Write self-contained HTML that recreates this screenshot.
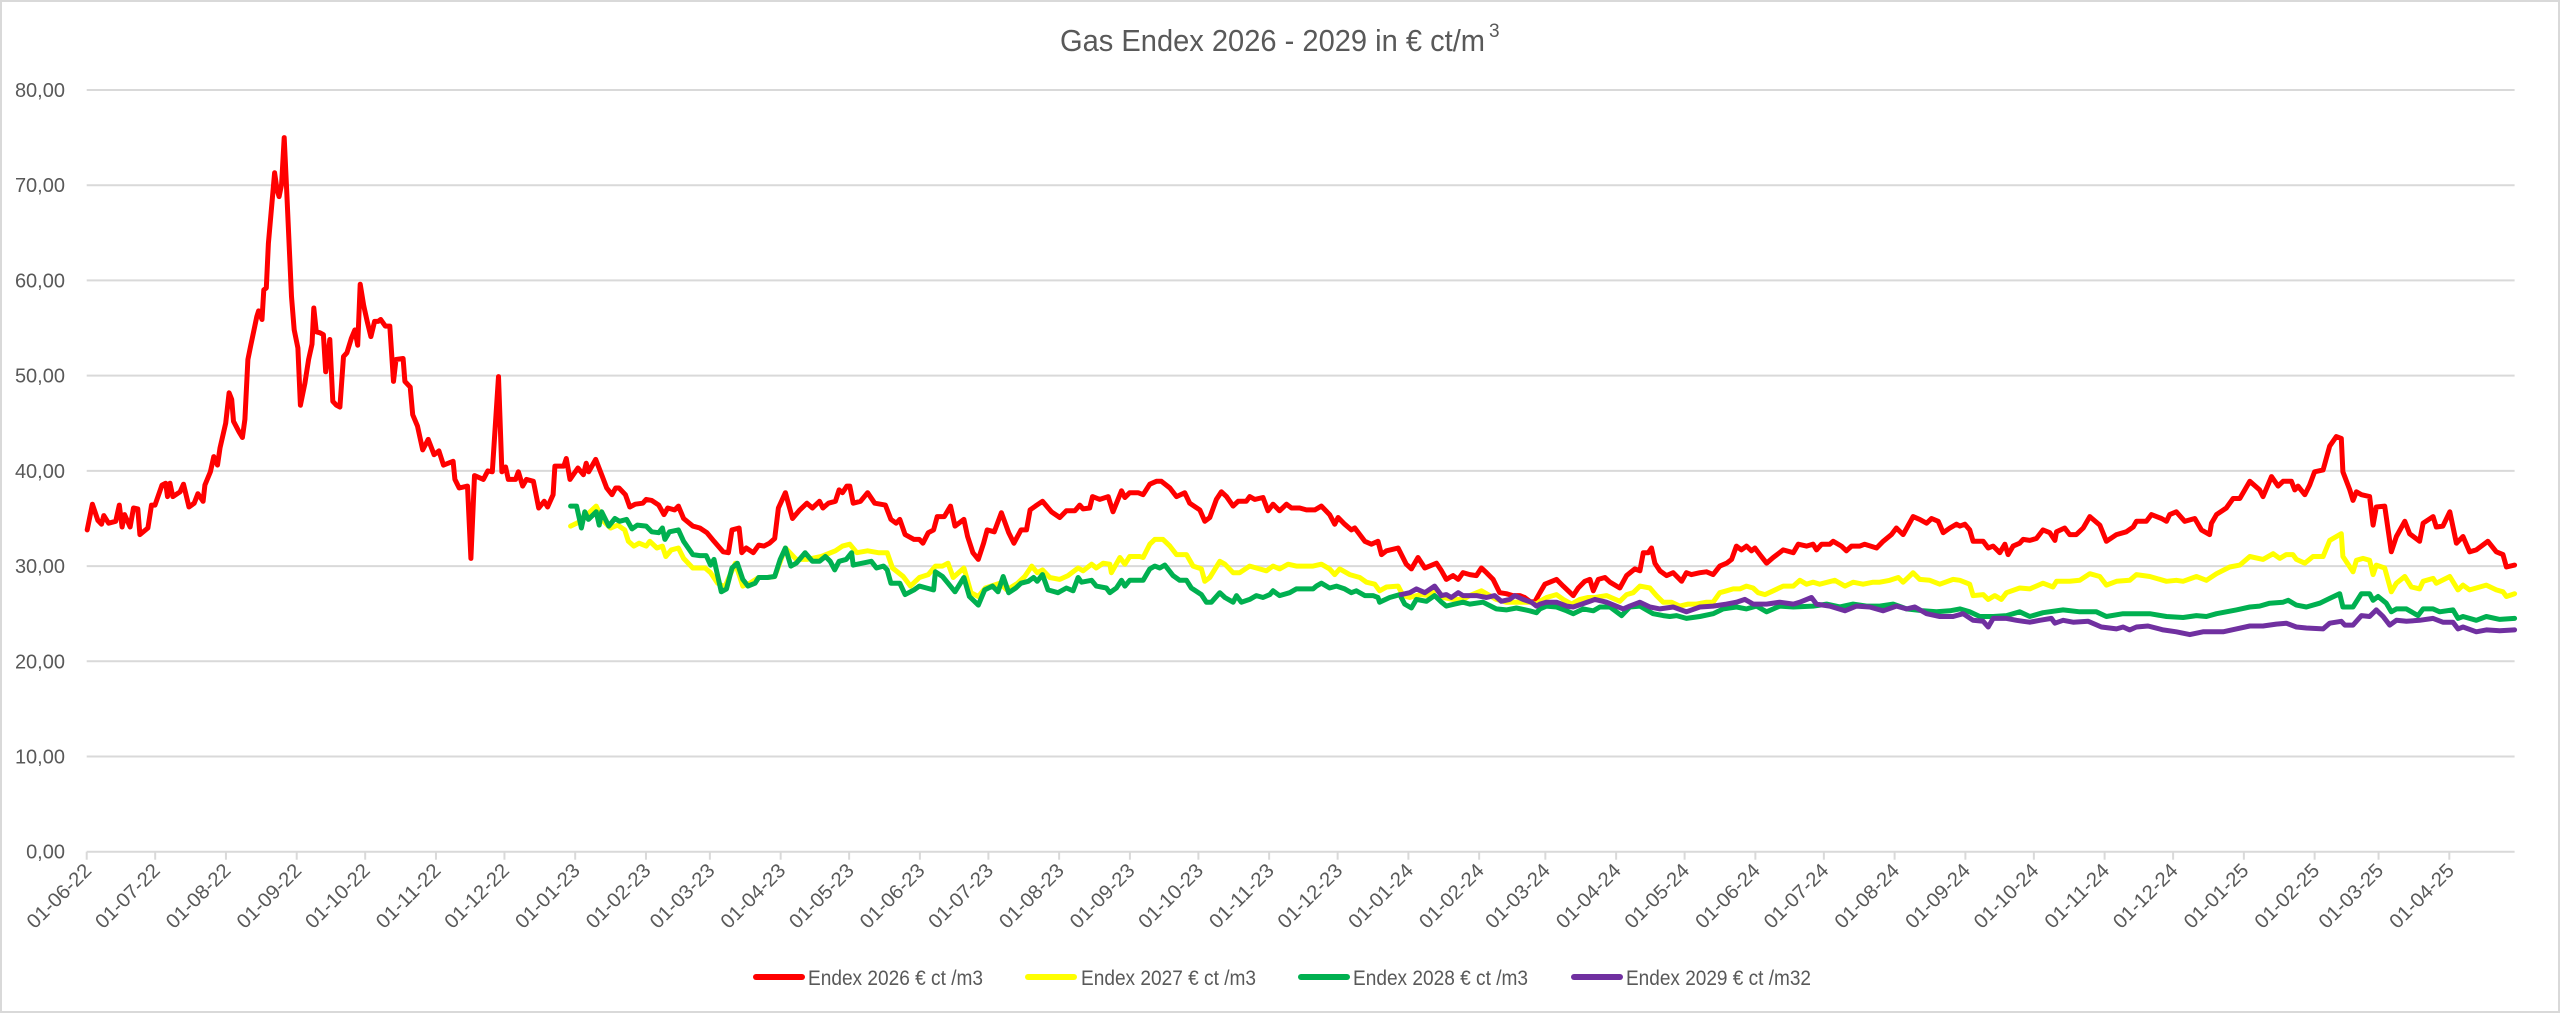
<!DOCTYPE html>
<html>
<head>
<meta charset="utf-8">
<style>
html,body{margin:0;padding:0;background:#fff;}
svg{display:block;font-family:"Liberation Sans",sans-serif;}
</style>
</head>
<body>
<svg id="chart" width="2560" height="1013" viewBox="0 0 2560 1013" xmlns="http://www.w3.org/2000/svg">
  <rect x="1" y="1" width="2558" height="1011" fill="#fff" stroke="#d9d9d9" stroke-width="2"/>
  <text x="1060" y="51" font-size="31" fill="#595959" textLength="425" lengthAdjust="spacingAndGlyphs">Gas Endex 2026 - 2029 in € ct/m</text><text x="1489" y="37" font-size="19" fill="#595959">3</text>
  <g id="grid"></g>
  <g id="yaxis"></g>
  <g id="xaxis"></g>
  <g id="series"></g>
  <g id="legend">
    <g>
      <line x1="756" y1="977" x2="802" y2="977" stroke="#ff0000" stroke-width="6" stroke-linecap="round"/>
      <text x="808" y="985" font-size="21" fill="#595959" textLength="175" lengthAdjust="spacingAndGlyphs">Endex 2026 € ct /m3</text>
    </g>
    <g>
      <line x1="1028" y1="977" x2="1074" y2="977" stroke="#ffff00" stroke-width="6" stroke-linecap="round"/>
      <text x="1081" y="985" font-size="21" fill="#595959" textLength="175" lengthAdjust="spacingAndGlyphs">Endex 2027 € ct /m3</text>
    </g>
    <g>
      <line x1="1301" y1="977" x2="1347" y2="977" stroke="#00b050" stroke-width="6" stroke-linecap="round"/>
      <text x="1353" y="985" font-size="21" fill="#595959" textLength="175" lengthAdjust="spacingAndGlyphs">Endex 2028 € ct /m3</text>
    </g>
    <g>
      <line x1="1574" y1="977" x2="1620" y2="977" stroke="#7030a0" stroke-width="6" stroke-linecap="round"/>
      <text x="1626" y="985" font-size="21" fill="#595959" textLength="185" lengthAdjust="spacingAndGlyphs">Endex 2029 € ct /m32</text>
    </g>
  </g>
</svg>
<script>
// Axis tick labels
const yTicks = [0,10,20,30,40,50,60,70,80];
const yTickLabels = ["0,00","10,00","20,00","30,00","40,00","50,00","60,00","70,00","80,00"];
// month ticks: day offsets since 2022-06-01
const xTickDays = [0,30,61,92,122,153,183,214,245,273,304,334,365,395,426,457,487,518,548,579,610,639,670,700,731,761,792,823,853,884,914,945,976,1004,1035];
const xTickLabels = ["01-06-22","01-07-22","01-08-22","01-09-22","01-10-22","01-11-22","01-12-22","01-01-23","01-02-23","01-03-23","01-04-23","01-05-23","01-06-23","01-07-23","01-08-23","01-09-23","01-10-23","01-11-23","01-12-23","01-01-24","01-02-24","01-03-24","01-04-24","01-05-24","01-06-24","01-07-24","01-08-24","01-09-24","01-10-24","01-11-24","01-12-24","01-01-25","01-02-25","01-03-25","01-04-25"];
const xMaxDay = 1063.6;

// Endex 2026 (days since 2022-06-01, values ct/m3)
const red26Days = [0.2,2.5,4.9,6.5,7.5,9.6,12.7,14.3,15.5,16.6,19,20.5,22.4,23.3,26.8,28.4,29.9,33.0,34.6,35.4,36.5,37.7,40.9,42.4,44.8,47.1,48.7,51.0,51.8,54.2,55.7,57.3,58.4,60.9,62.4,63.5,64.3,66.7,68.2,69.3,70.6,71.8,74.5,75.3,76.8,77.6,78.7,79.6,82.3,83.4,84.3,85.4,86.5,87.5,88.6,89.7,90.9,92.5,93.6,95.6,97.2,98.7,99.5,100.6,102.2,103.7,104.7,106.5,107.8,109.4,110.9,112.5,114.0,115.9,117.5,118.7,119.8,121.4,122.9,124.5,126.1,127.7,128.8,130.8,132.8,134.4,135.5,138.6,139.4,141.7,142.8,144.9,147.2,149.6,152.2,154.3,156.3,160.5,161.3,163.2,166.8,168.3,169.9,173.8,175.7,177.7,180.4,181.9,183.5,184.7,187.9,189.1,191.0,192.6,195.7,198.0,200.4,201.9,204.3,205.1,209.0,210.1,211.7,215.2,217.6,218.8,219.9,223.0,226.2,227.8,230.1,231.7,233.2,236.0,237.9,240.3,
243.6,245.1,247.5,250.6,252.9,254.5,257.6,259.2,261.5,265.5,268.6,271.7,274.8,278.8,281.1,282.7,285.8,287.0,288.9,292.0,294.4,296.7,299.1,301.4,303.0,306.1,309.2,312.4,315.5,317.9,321.0,322.5,324.9,328.0,329.6,331.1,333.0,334.3,335.8,339.0,342.1,345.2,349.9,352.3,354.6,356.2,358.5,362.4,364.8,366.3,368.7,371.0,372.6,375.7,378.4,380.4,384.3,385.9,388.2,390.6,392.9,394.5,397.6,400.7,403.9,406.2,409.3,411.7,413.3,415.6,418.7,422.6,
426.3,429.2,432.9,435.0,436.5,439.4,440.6,443.8,447.5,449.6,453.3,454.8,456.9,460.6,462.8,465.7,468.6,470.8,474.5,477.4,481.0,483.2,487.6,489.8,492.0,494.9,497.1,499.3,502.2,504.4,508.0,509.5,511.7,515.3,517.5,519.7,522.6,525.6,527.8,531.4,534.3,538.0,540.9,544.5,546.7,548.2,551.1,554.0,555.5,559.9,562.8,565.7,567.2,569.4,574.5,578.1,580.3,583.2,586.2,588.3,591.3,593.5,595.6,598.6,600.8,602.9,605.9,608.8,611.0,613.2,616.1,619.0,621.9,624.8,627.8,629.9,632.1,634.3,
636.6,638.8,643.9,646.8,651.2,653.4,656.3,658.5,660.0,662.2,665.1,667.3,671.6,674.6,678.2,680.4,681.9,684.1,685.5,687.0,689.2,692.1,695.0,698.7,700.8,703.0,706.7,709.6,712.5,715.4,718.4,720.6,722.7,724.9,727.1,729.3,730.8,733.0,735.9,738.8,743.2,747.6,749.8,753.4,756.3,757.8,760.0,763.6,765.1,768.7,770.9,773.1,776.8,778.9,784.1,787.0,790.6,792.8,795.7,800.1,803.0,806.0,808.2,811.1,813.3,816.2,819.1,820.6,822.8,824.9,826.4,830.8,833.0,835.2,838.1,840.3,841.7,843.9,846.8,848.3,
851.2,854.1,857.0,860.0,862.2,862.9,866.5,868.7,871.6,874.6,877.5,881.9,884.8,889.2,893.5,896.5,897.9,902.3,904.5,908.9,911.1,912.5,915.4,919.1,923.5,926.4,930.0,930.8,933.0,937.3,940.3,943.2,947.6,951.9,953.4,957.1,960.0,962.2,965.8,967.3,968.7,971.7,973.8,976.0,979.7,982.6,985.5,987.7,988.4,991.4,992.8,994.3,996.5,1000.1,1001.6,1003.0,1006.7,1009.6,1011.8,1015.5,1017.6,1022.0,1023.5,1027.9,1029.3,1032.2,1035.2,1038.1,1041.0,1043.9,1046.8,1051.9,1055.6,1058.5,1060.0,1063.6];
const red26Vals = [33.8,36.5,34.8,34.4,35.3,34.5,34.7,36.4,34.1,35.4,34.1,36.1,36.0,33.3,34.0,36.4,36.4,38.5,38.7,37.3,38.7,37.3,37.8,38.6,36.2,36.6,37.6,36.8,38.5,39.9,41.5,40.6,42.4,45.0,48.2,47.5,45.2,44.1,43.5,45.4,51.7,53.1,56.2,56.8,55.9,59.0,59.2,63.9,71.3,69.5,68.8,70.1,75.0,70.1,64.3,58.3,54.8,52.9,46.9,49.2,51.7,53.3,57.1,54.6,54.5,54.3,50.4,53.8,47.3,46.9,46.7,52.0,52.4,53.9,54.8,53.2,59.6,57.3,55.7,54.1,55.7,55.7,55.9,55.2,55.2,49.4,51.7,51.8,49.4,48.8,45.9,44.7,42.2,43.3,41.7,42.1,40.6,41.0,39.1,38.2,38.4,30.8,39.5,39.1,40.0,39.9,49.9,39.9,40.4,39.1,39.1,39.9,38.4,39.1,38.9,36.1,36.8,36.2,37.5,40.5,40.5,41.3,39.1,40.3,39.6,40.8,39.9,41.2,39.2,38.2,37.5,38.2,38.2,37.5,36.2,36.5,
36.6,37.0,36.9,36.4,35.4,36.1,35.9,36.3,35.0,34.2,34.0,33.5,32.6,31.5,31.4,33.8,34.0,31.4,31.9,31.4,32.2,32.1,32.4,32.9,36.1,37.7,35.0,35.9,36.6,36.1,36.8,36.1,36.6,36.8,38.0,37.7,38.4,38.4,36.6,36.8,37.7,36.6,36.4,34.9,34.5,34.9,33.3,32.8,32.8,32.4,33.5,33.8,35.2,35.2,36.3,34.2,34.9,33.1,31.4,30.7,32.4,33.8,33.6,35.6,33.5,32.4,33.8,33.8,35.9,36.3,36.8,35.7,
35.1,35.8,35.8,36.4,36.0,36.1,37.3,37.0,37.3,35.7,37.9,37.2,37.7,37.7,37.5,38.6,38.9,38.9,38.2,37.3,37.7,36.6,35.9,34.7,35.1,37.0,37.8,37.3,36.3,36.8,36.8,37.3,37.0,37.2,35.8,36.5,35.8,36.5,36.1,36.1,35.9,35.9,36.3,35.4,34.4,35.1,34.4,33.8,34.0,32.6,32.3,32.6,31.2,31.6,31.9,30.2,29.7,30.9,29.8,30.0,30.3,29.5,28.6,29.0,28.6,29.3,29.1,29.0,29.8,29.3,28.6,27.2,27.1,26.9,26.9,26.7,26.3,26.2,
27.2,28.1,28.6,27.9,26.9,27.7,28.4,28.6,27.4,28.6,28.8,28.3,27.7,29.0,29.7,29.5,31.4,31.4,31.9,30.3,29.5,29.0,29.3,28.4,29.3,29.1,29.3,29.4,29.1,30.0,30.3,30.7,32.1,31.7,32.1,31.6,31.9,31.2,30.3,30.9,31.7,31.4,32.3,32.1,32.3,31.7,32.3,32.3,32.6,32.1,31.6,32.1,32.1,32.3,31.9,32.6,33.3,34.0,33.3,35.2,34.9,34.5,35.0,34.7,33.5,34.0,34.4,34.2,34.4,33.8,32.6,32.6,31.9,32.1,31.4,32.3,31.2,32.1,32.4,32.8,
32.7,32.9,33.8,33.5,32.7,33.6,34.0,33.3,33.3,34.0,35.2,34.3,32.6,33.3,33.6,34.1,34.7,34.7,35.4,35.0,34.7,35.4,35.7,34.7,35.0,33.8,33.3,34.5,35.4,36.1,37.1,37.1,38.9,38.0,37.3,39.4,38.4,38.9,38.9,38.0,38.4,37.5,38.5,39.9,40.1,42.6,43.6,43.4,39.9,38.0,36.9,37.8,37.5,37.3,34.3,36.2,36.3,31.5,33.1,34.7,33.4,32.6,34.5,35.2,34.1,34.2,35.7,32.4,33.1,31.5,31.7,32.6,31.5,31.2,29.9,30.1];

// Endex 2027
const yel27Days = [212.0,214.6,217.0,220.1,223.2,226.4,229.5,232.6,235.7,237.3,239.7,242.0,245.1,246.7,249.8,252.2,253.7,256.1,259.2,261.5,265.5,268.6,270.9,273.3,276.4,279.5,284.2,287.4,290.5,294.4,298.3,301.4,306.1,310.8,315.5,321.8,328.0,331.1,334.3,337.4,342.1,346.8,350.7,353.0,357.7,360.9,364.8,368.7,371.8,374.9,377.3,379.6,384.3,387.4,390.6,393.7,400.0,403.1,407.8,410.9,414.0,416.4,418.7,421.9,
426.3,429.9,434.3,436.5,440.2,442.3,445.3,448.2,448.9,452.6,454.8,456.9,461.3,462.8,465.7,467.9,471.5,474.5,477.4,481.8,484.7,488.3,489.8,492.0,496.4,498.6,502.2,505.1,509.5,512.4,516.8,519.7,522.6,526.3,529.9,532.9,537.2,540.9,544.5,546.7,548.9,553.3,557.7,560.6,564.3,566.4,569.4,574.5,576.7,579.6,584.0,588.3,591.3,594.2,598.6,602.9,605.9,611.0,614.6,617.5,621.9,626.3,632.1,635.1,
636.6,639.5,643.9,646.8,650.5,654.1,657.8,660.7,665.8,671.6,674.6,677.5,680.4,684.8,687.7,690.6,694.3,697.9,701.6,705.2,709.6,712.5,715.4,718.4,721.3,724.2,727.1,730.0,732.2,735.2,738.8,743.2,747.6,750.5,753.4,756.3,759.2,765.8,770.2,773.8,778.2,782.6,785.5,789.9,793.6,795.7,800.1,803.0,807.4,811.8,817.6,820.6,824.9,826.4,830.8,833.0,835.9,838.8,841.0,846.8,
851.2,857.0,861.4,862.9,868.7,873.1,877.5,881.9,884.8,889.2,895.0,897.9,903.8,911.1,915.4,918.4,924.2,928.6,933.0,938.8,943.2,947.6,953.4,957.8,960.7,963.6,966.5,968.0,971.7,975.3,979.7,982.6,987.7,988.4,992.8,994.3,997.2,1000.1,1001.6,1003.0,1006.7,1009.6,1011.8,1015.5,1018.4,1022.0,1023.5,1027.9,1029.3,1035.2,1038.8,1041.0,1043.9,1051.2,1055.6,1058.5,1060.0,1063.6];
const yel27Vals = [34.2,34.5,34.8,35.6,36.3,34.7,34.0,34.3,33.8,32.6,32.1,32.4,32.1,32.6,31.9,32.1,31.0,31.7,31.9,30.8,29.8,29.8,29.8,29.3,28.2,27.8,30.3,27.9,28.2,28.8,28.8,28.9,31.9,30.7,30.7,31.0,31.6,32.1,32.3,31.4,31.6,31.4,31.4,29.8,28.9,27.9,28.8,29.1,30.0,30.0,30.3,28.8,29.8,27.2,26.8,27.7,28.2,27.5,28.2,28.9,30.0,29.3,29.6,28.8,
28.6,29.0,29.8,29.5,30.2,29.8,30.3,30.2,29.3,30.9,30.2,31.0,31.0,30.9,32.3,32.8,32.8,32.1,31.2,31.2,30.0,29.7,28.4,28.8,30.5,30.2,29.3,29.3,30.0,29.8,29.5,30.0,29.7,30.2,30.0,30.0,30.0,30.2,29.7,29.1,29.7,29.1,28.8,28.3,28.1,27.4,27.8,27.9,26.9,26.7,27.0,26.9,27.6,26.7,26.5,26.5,26.9,27.4,26.9,26.5,26.2,26.2,26.2,26.0,
26.3,26.7,27.0,26.5,26.0,26.5,26.7,26.7,26.9,26.3,27.0,27.2,27.9,27.7,26.9,26.2,26.2,25.8,26.0,26.0,26.2,26.2,27.2,27.4,27.6,27.6,27.9,27.7,27.2,27.0,27.4,27.9,27.9,28.5,28.1,28.3,28.1,28.5,27.9,28.3,28.1,28.3,28.3,28.5,28.8,28.3,29.3,28.6,28.5,28.1,28.6,28.5,28.1,26.9,27.0,26.5,26.9,26.5,27.2,27.7,
27.6,28.2,27.8,28.4,28.4,28.5,29.2,28.9,28.0,28.4,28.5,29.1,28.9,28.4,28.5,28.4,28.9,28.5,29.2,29.9,30.1,31.0,30.7,31.3,30.8,31.2,31.2,30.7,30.3,31.0,31.0,32.7,33.4,31.0,29.4,30.6,30.8,30.6,29.1,30.1,29.8,27.3,28.2,28.9,27.8,27.6,28.4,28.7,28.2,28.9,27.5,28.0,27.5,28.0,27.5,27.3,26.8,27.1];

// Endex 2028
const grn28Days = [212.0,214.6,216.7,218.2,219.8,223.2,224.5,225.6,228.7,231.4,233.4,236.5,238.9,241.2,245.1,247.5,250.6,252.2,253.3,255.3,259.2,261.5,265.5,268.6,271.4,273.3,274.8,278.0,280.3,282.7,285.0,287.4,289.7,292.8,294.4,298.3,301.4,303.8,306.1,308.5,310.8,314.7,317.9,321.0,323.6,325.7,327.7,329.6,332.7,335.1,335.8,343.7,346.0,349.1,350.7,352.3,356.2,358.5,362.4,364.8,367.9,371.0,371.8,374.9,377.3,380.4,384.3,386.7,390.6,393.4,396.8,399.2,401.5,403.9,407.0,409.3,412.5,414.8,416.4,418.7,421.1,
425.5,429.2,432.1,434.3,435.8,440.2,442.3,446.7,448.2,451.1,453.3,454.8,456.9,462.8,465.7,467.9,470.1,472.3,475.9,478.8,481.8,483.9,488.3,490.5,492.7,496.4,498.6,502.2,503.7,505.8,509.5,512.4,515.3,518.3,519.7,522.6,527.0,529.9,537.2,538.7,540.9,544.5,547.5,551.1,554.0,556.2,559.9,563.5,565.7,566.4,570.8,575.2,577.4,580.3,582.5,586.9,590.5,593.5,595.6,599.3,602.9,605.9,611.7,617.5,621.9,626.3,632.1,635.1,
636.6,639.5,643.9,648.3,651.2,655.6,660.0,662.9,667.3,672.4,676.0,680.4,686.2,690.6,693.5,696.5,700.8,706.7,712.5,716.9,722.7,727.1,731.5,735.9,741.7,747.6,756.3,762.2,768.0,773.8,779.7,785.5,791.4,797.2,804.5,810.3,816.2,820.6,824.9,829.3,835.2,841.0,846.8,
851.2,857.0,865.8,873.1,880.4,884.8,892.1,903.8,911.1,918.4,924.2,928.6,933.0,941.7,947.6,951.9,956.3,962.2,964.4,968.0,972.4,978.2,982.6,987.0,988.4,992.8,996.5,1000.1,1001.6,1003.8,1007.4,1009.6,1011.8,1016.2,1021.3,1023.5,1027.9,1030.8,1036.6,1038.8,1041.0,1046.8,1051.2,1057.1,1063.6];
const grn28Vals = [36.3,36.3,34.0,35.7,34.9,35.7,34.3,35.7,34.2,35.0,34.7,34.9,33.9,34.3,34.2,33.6,33.5,34.0,32.8,33.6,33.8,32.6,31.2,31.1,31.1,30.1,30.7,27.3,27.6,29.8,30.3,28.6,27.9,28.2,28.8,28.8,28.9,30.7,31.9,30.0,30.3,31.4,30.5,30.5,31.0,30.5,29.6,30.5,30.7,31.4,30.1,30.5,29.8,30.0,29.6,28.2,28.2,27.0,27.5,27.9,27.7,27.5,29.4,28.9,28.2,27.3,28.8,26.8,25.9,27.5,27.9,27.3,28.9,27.2,27.7,28.2,28.4,28.8,28.4,29.1,27.5,
27.2,27.7,27.4,28.8,28.3,28.5,27.9,27.7,27.2,27.7,28.5,27.9,28.5,28.5,29.7,30.0,29.8,30.1,29.0,28.5,28.5,27.7,27.0,26.2,26.2,27.2,26.7,26.2,26.9,26.2,26.5,26.9,26.7,27.0,27.4,26.9,27.2,27.6,27.6,27.9,28.2,27.7,27.9,27.6,27.2,27.4,26.9,26.9,26.7,26.2,26.7,27.0,26.0,25.6,26.5,26.3,26.9,26.2,25.8,26.0,26.2,26.0,26.2,25.5,25.4,25.6,25.3,25.1,
25.5,25.8,25.7,25.3,25.0,25.5,25.3,25.7,25.7,24.8,25.7,25.8,25.0,24.8,24.7,24.8,24.5,24.7,25.0,25.5,25.7,25.5,25.8,25.2,25.8,25.7,25.8,26.0,25.7,26.0,25.8,25.8,26.0,25.5,25.3,25.2,25.3,25.5,25.2,24.7,24.7,24.8,25.2,
24.7,25.1,25.4,25.2,25.2,24.7,25.0,25.0,24.7,24.6,24.8,24.7,25.0,25.4,25.7,25.8,26.1,26.2,26.4,25.9,25.7,26.1,26.6,27.1,25.7,25.7,27.1,27.1,26.4,26.8,26.1,25.2,25.5,25.5,24.8,25.5,25.5,25.2,25.4,24.5,24.7,24.3,24.7,24.4,24.5];

// Endex 2029
const pur29Days = [575.9,579.6,582.5,586.2,590.5,593.5,595.6,597.8,600.8,602.9,608.8,613.2,616.8,619.7,623.4,625.6,629.2,632.9,635.1,
636.6,639.5,643.9,648.3,651.2,654.9,658.5,660.7,665.8,673.1,676.0,680.4,684.8,689.2,695.0,700.8,706.7,712.5,718.4,722.7,726.4,730.0,735.9,741.7,747.6,750.5,755.6,757.8,763.6,770.2,775.3,781.1,787.0,792.8,797.2,800.9,806.0,811.8,817.6,822.0,826.4,830.8,833.0,835.2,841.0,845.4,848.3,
851.2,855.6,860.7,862.2,865.8,870.2,876.8,882.6,889.2,892.1,895.0,897.9,903.0,909.6,915.4,921.3,927.1,935.9,941.7,947.6,953.4,959.2,963.6,968.0,972.4,979.7,982.6,987.7,989.2,992.8,996.5,1000.1,1003.0,1006.0,1008.9,1011.8,1016.2,1022.0,1027.9,1032.2,1036.6,1038.8,1041.0,1046.8,1051.2,1057.1,1063.6];
const pur29Vals = [27.0,27.2,27.6,27.2,27.9,26.9,27.0,26.7,27.2,26.9,26.9,26.7,26.9,26.3,26.5,26.9,26.5,26.2,25.8,
26.0,26.2,26.2,25.8,25.7,26.0,26.3,26.5,26.2,25.5,25.8,26.2,25.7,25.5,25.7,25.2,25.7,25.8,26.0,26.2,26.5,26.0,26.0,26.2,26.0,26.2,26.7,26.0,25.8,25.3,25.8,25.7,25.3,25.8,25.5,25.7,25.0,24.7,24.7,25.0,24.3,24.2,23.6,24.5,24.5,24.3,24.2,
24.1,24.3,24.5,24.0,24.3,24.1,24.2,23.6,23.4,23.6,23.3,23.6,23.7,23.3,23.1,22.8,23.1,23.1,23.4,23.7,23.7,23.9,24.0,23.6,23.5,23.4,24.0,24.2,23.8,23.8,24.8,24.7,25.4,24.7,23.8,24.3,24.2,24.3,24.5,24.1,24.1,23.4,23.6,23.1,23.3,23.2,23.3];

const NS = "http://www.w3.org/2000/svg";
const X0 = 86.7, X1 = 2514.6, Y0 = 851.7, Y1 = 90.0, YMAX = 80;
function xScale(d){ return X0 + d/xMaxDay*(X1-X0); }
function yScale(v){ return Y0 - v/YMAX*(Y0-Y1); }

const grid = document.getElementById('grid');
const yaxis = document.getElementById('yaxis');
yTicks.forEach(function(t,i){
  const y = yScale(t);
  const ln = document.createElementNS(NS,'line');
  
  
  ln.setAttribute('x1', X0); ln.setAttribute('x2', X1);
  ln.setAttribute('y1', y); ln.setAttribute('y2', y);
  ln.setAttribute('stroke', '#d9d9d9'); ln.setAttribute('stroke-width', '2');
  grid.appendChild(ln);
  const tx = document.createElementNS(NS,'text');
  
  
  tx.setAttribute('x', 65); tx.setAttribute('y', y+7);
  tx.setAttribute('text-anchor','end');
  tx.setAttribute('font-size','20'); tx.setAttribute('fill','#595959');
  tx.textContent = yTickLabels[i];
  yaxis.appendChild(tx);
});

const xaxis = document.getElementById('xaxis');
xTickDays.forEach(function(d,i){
  const x = xScale(d);
  const tk = document.createElementNS(NS,'line');
  
  
  tk.setAttribute('x1', x); tk.setAttribute('x2', x);
  tk.setAttribute('y1', Y0); tk.setAttribute('y2', Y0+8);
  tk.setAttribute('stroke','#d9d9d9'); tk.setAttribute('stroke-width','2');
  xaxis.appendChild(tk);
  const tx = document.createElementNS(NS,'text');
  
  
  tx.setAttribute('text-anchor','end');
  tx.setAttribute('font-size','20'); tx.setAttribute('fill','#595959');
  tx.setAttribute('transform','translate(' + (x+6) + ',' + (Y0+20) + ') rotate(-45)');
  tx.setAttribute('textLength','82'); tx.setAttribute('lengthAdjust','spacingAndGlyphs');
  tx.textContent = xTickLabels[i];
  xaxis.appendChild(tx);
});

const series = document.getElementById('series');
function drawSeries(days, vals, color, name){
  const n = Math.min(days.length, vals.length);
  const pts = [];
  for (let i=0;i<n;i++){ pts.push(xScale(days[i]).toFixed(1) + ',' + yScale(vals[i]).toFixed(1)); }
  const pl = document.createElementNS(NS,'polyline');
  
  
  pl.setAttribute('points', pts.join(' '));
  pl.setAttribute('fill','none'); pl.setAttribute('stroke', color);
  pl.setAttribute('stroke-width','5'); pl.setAttribute('stroke-linejoin','round'); pl.setAttribute('stroke-linecap','round');
  series.appendChild(pl);
}
drawSeries(red26Days, red26Vals, '#ff0000', 'line-endex-2026');
drawSeries(yel27Days, yel27Vals, '#ffff00', 'line-endex-2027');
drawSeries(grn28Days, grn28Vals, '#00b050', 'line-endex-2028');
drawSeries(pur29Days, pur29Vals, '#7030a0', 'line-endex-2029');
</script>
</body>
</html>
